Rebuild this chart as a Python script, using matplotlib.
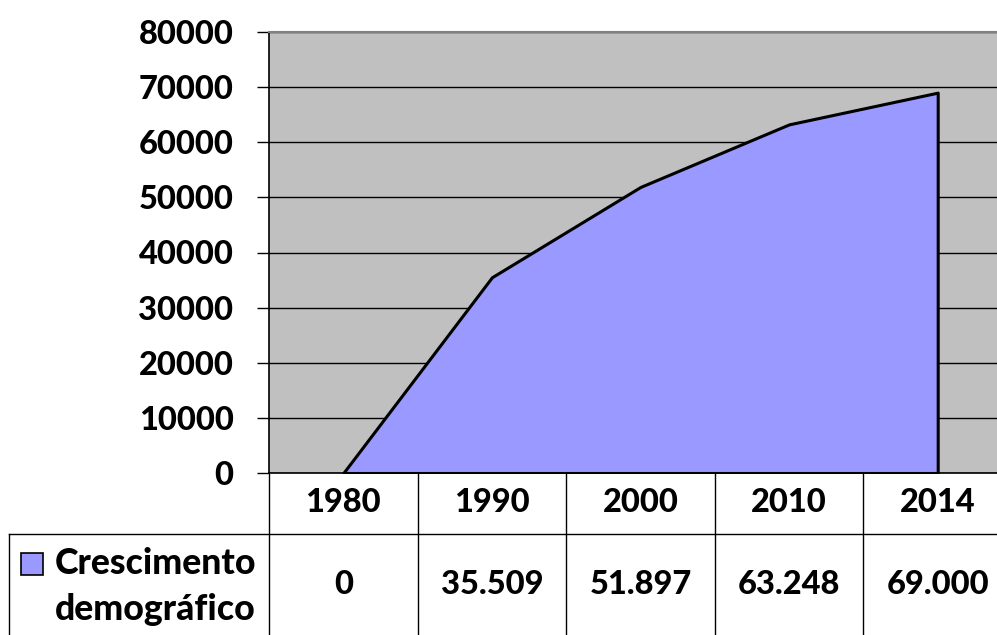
import matplotlib
matplotlib.use('Agg')
import matplotlib.pyplot as plt
from matplotlib.lines import Line2D
from matplotlib.patches import Rectangle

# data
years = ['1980', '1990', '2000', '2010', '2014']
values = [0, 35509, 51897, 63248, 69000]
value_labels = ['0', '35.509', '51.897', '63.248', '69.000']
series_name = ['Crescimento', 'demográfico']
yticks = [0, 10000, 20000, 30000, 40000, 50000, 60000, 70000, 80000]

W, H = 997, 635
plt.rcParams['font.family'] = ['Lato', 'DejaVu Sans']
FS = 23.5
WT = 'black'

fig = plt.figure(figsize=(W / 100, H / 100), dpi=100)
fig.patch.set_facecolor('white')

# plot area (right edge runs past the picture)
left, top, bottom, right = 269, 32, 473, 1012
ax = fig.add_axes([left / W, 1 - bottom / H, (right - left) / W, (bottom - top) / H])
ax.set_facecolor('#C0C0C0')
x = list(range(len(years)))
ax.fill_between(x, values, 0, facecolor='#9999FF', edgecolor='black', linewidth=2.2, zorder=3)
ax.set_xlim(-0.5, len(years) - 0.5)
ax.set_ylim(0, 80000)
ax.set_yticks(yticks)
ax.set_yticklabels([str(v) for v in yticks], fontsize=FS, fontweight=WT)
ax.tick_params(axis='y', length=8.6, width=1, pad=17, direction='out')
ax.set_xticks([])
ax.grid(axis='y', color='black', linewidth=1, zorder=1)
ax.set_axisbelow(True)
ax.spines['right'].set_visible(False)
ax.spines['top'].set_color('#808080')
ax.spines['top'].set_linewidth(1.5)
ax.spines['left'].set_linewidth(1.2)
ax.spines['bottom'].set_linewidth(1.2)

# data table below the axis
def fx(px):
    return px / W

def fy(py):
    return 1 - py / H

col_w = (right - left) / len(years)
row1 = 534
lines = []
for i in range(len(years) + 1):
    xp = left + i * col_w
    lines.append(([fx(xp), fx(xp)], [fy(bottom), fy(H)]))
lines.append(([fx(9), fx(W)], [fy(row1), fy(row1)]))
lines.append(([fx(9), fx(9)], [fy(row1), fy(H)]))
for xs, ys in lines:
    fig.add_artist(Line2D(xs, ys, color='black', linewidth=1, transform=fig.transFigure))

for i, (yr, lab) in enumerate(zip(years, value_labels)):
    cx = left + (i + 0.5) * col_w
    fig.text(fx(cx), fy(503), yr, ha='center', va='center', fontsize=FS, fontweight=WT)
    fig.text(fx(cx), fy(584), lab, ha='center', va='center', fontsize=FS, fontweight=WT)

fig.add_artist(Rectangle((fx(21), fy(575)), 22 / W, 22 / H, facecolor='#9999FF',
                         edgecolor='black', linewidth=1.2, transform=fig.transFigure))
fig.text(fx(55), fy(563), series_name[0], ha='left', va='center', fontsize=FS + 2.2, fontweight=WT)
fig.text(fx(55), fy(609), series_name[1], ha='left', va='center', fontsize=FS + 2.2, fontweight=WT)

fig.savefig('out.png', dpi=100)
